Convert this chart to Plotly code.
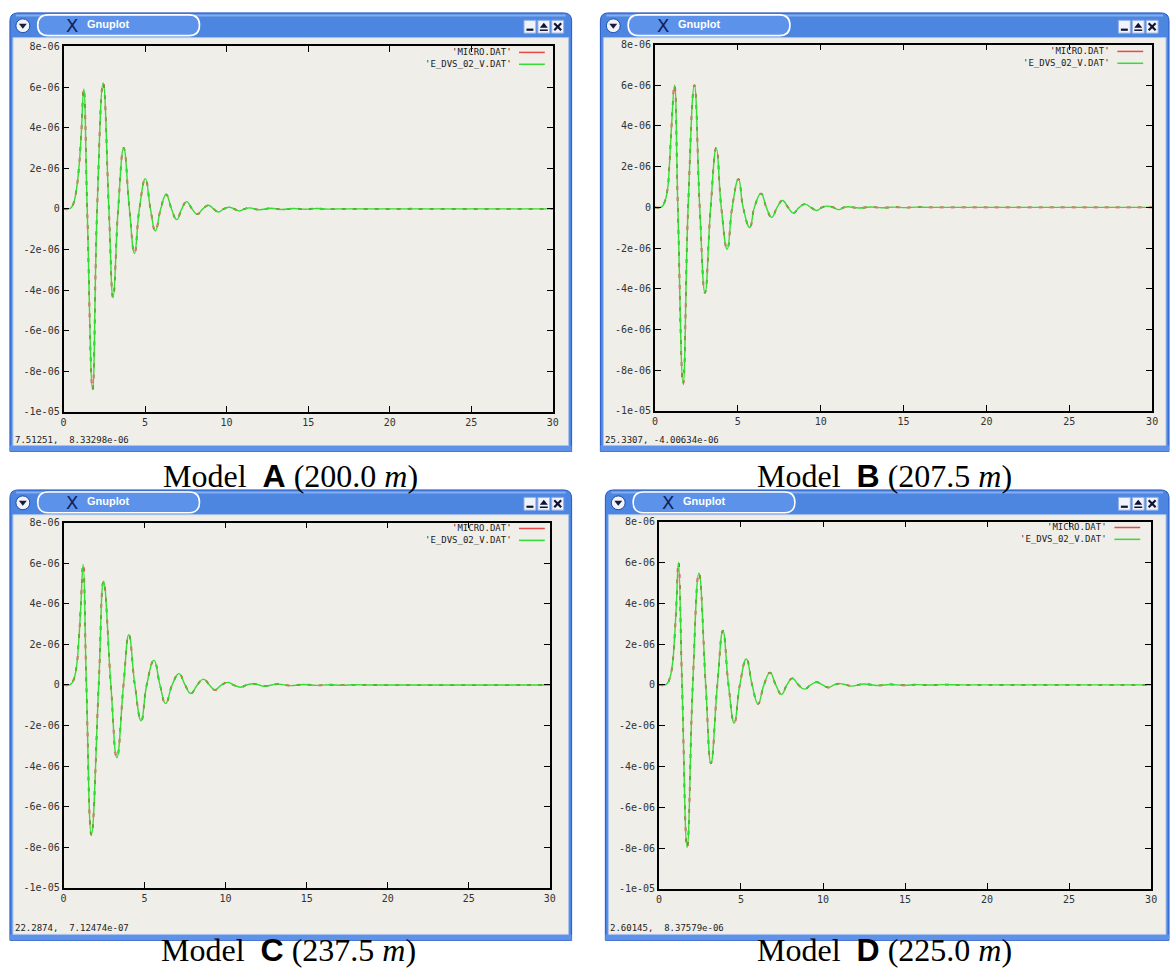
import plotly.graph_objects as go

W, H = 1175, 974

# ---------------- data (values in units of 1e-6) ----------------
UNIT = 1e-6

A_t = [0, 0.4, 0.6, 0.78, 0.94, 1.08, 1.24,
       1.45, 1.78, 2.06, 2.43, 2.78, 3.04, 3.35, 3.69, 4.04, 4.35, 4.65, 5.02, 5.33, 5.63, 5.96, 6.29,
       6.62, 6.94, 7.25, 7.55, 7.88, 8.2, 8.54, 8.88, 9.2, 9.5, 9.83, 10.16, 10.47, 10.78, 11.1, 11.4,
       12.0, 12.7, 13.4, 14.1, 14.8, 15.5, 16.2, 17.0, 30]
A_v = [0, 0.02, 0.25, 0.9, 2.0, 3.6, 5.9,
       0, -8.9, 0, 6.2, 0, -4.37, 0, 3.0, 0, -2.19, 0, 1.49, 0, -1.09, 0, 0.71,
       0, -0.53, 0, 0.36, 0, -0.26, 0, 0.18, 0, -0.15, 0, 0.08, 0, -0.1, 0, 0.05,
       -0.04, 0.03, -0.03, 0.02, -0.02, 0.02, -0.01, 0, 0]

B_t = [0, 0.4, 0.6, 0.76, 0.88, 1.0, 1.18,
       1.38, 1.70, 2.0, 2.38, 2.7, 3.02, 3.36, 3.70, 4.0, 4.36, 4.66, 5.04, 5.32, 5.72, 6.0, 6.4,
       6.72, 7.04, 7.37, 7.7, 8.03, 8.36, 8.7, 9.06, 9.4, 9.76, 10.08, 10.4, 10.75, 11.1, 11.4, 11.66,
       12.3, 13.0, 13.7, 14.4, 15.1, 15.8, 16.5, 17.2, 30]
B_v = [0, 0.02, 0.3, 0.9, 2.2, 4.0, 6.0,
       0, -8.67, 0, 6.0, 0, -4.2, 0, 2.92, 0, -2.06, 0, 1.39, 0, -0.99, 0, 0.68,
       0, -0.49, 0, 0.34, 0, -0.28, 0, 0.16, 0, -0.15, 0, 0.06, 0, -0.11, 0, 0.03,
       -0.03, 0.02, -0.02, 0.01, -0.01, 0.01, 0, 0, 0]

C_t = [0, 0.42, 0.62, 0.8, 0.94, 1.06, 1.21,
       1.41, 1.72, 2.17, 2.47, 2.92, 3.29, 3.70, 4.03, 4.40, 4.79, 5.13, 5.58, 5.95, 6.30, 6.7, 7.12,
       7.5, 7.85, 8.25, 8.63, 9.0, 9.33, 9.75, 10.14, 10.5, 10.9, 11.3, 11.68, 12.05, 12.4,
       13.2, 14.0, 14.8, 15.6, 16.4, 17.2, 18.0, 19.0, 30]
C_v = [0, 0.02, 0.25, 0.9, 2.2, 3.8, 5.94,
       0, -7.39, 0, 5.11, 0, -3.58, 0, 2.48, 0, -1.77, 0, 1.21, 0, -0.92, 0, 0.56,
       0, -0.42, 0, 0.29, 0, -0.24, 0, 0.13, 0, -0.11, 0, 0.06, 0, -0.06,
       0.04, -0.03, 0.02, -0.02, 0.01, -0.01, 0.01, 0, 0]

D_t = [0, 0.45, 0.65, 0.82, 0.95, 1.06, 1.19,
       1.41, 1.72, 2.06, 2.44, 2.85, 3.17, 3.56, 3.90, 4.24, 4.59, 4.93, 5.33, 5.68, 6.04, 6.4, 6.77,
       7.12, 7.47, 7.8, 8.14, 8.5, 8.87, 9.25, 9.62, 9.97, 10.32, 10.68, 11.03, 11.4, 11.74,
       12.5, 13.3, 14.1, 14.9, 15.7, 16.5, 17.3, 18.5, 30]
D_v = [0, 0.02, 0.3, 1.0, 2.3, 3.9, 6.0,
       0, -7.96, 0, 5.47, 0, -3.84, 0, 2.65, 0, -1.87, 0, 1.27, 0, -0.93, 0, 0.60,
       0, -0.47, 0, 0.32, 0, -0.21, 0, 0.13, 0, -0.13, 0, 0.06, 0, -0.06,
       0.04, -0.03, 0.02, -0.02, 0.01, -0.01, 0.01, 0, 0]

model_letters = ["A", "B", "C", "D"]
model_depths = ["200.0", "207.5", "237.5", "225.0"]
status_texts = ["7.51251,  8.33298e-06", "25.3307, -4.00634e-06",
                "22.2874,  7.12474e-07", "2.60145,  8.37579e-06"]
series_names = ["'MICRO.DAT'", "'E_DVS_02_V.DAT'"]

x_tick_vals = [0, 5, 10, 15, 20, 25, 30]
x_tick_text = ["0", "5", "10", "15", "20", "25", "30"]
y_tick_vals = [8e-6, 6e-6, 4e-6, 2e-6, 0, -2e-6, -4e-6, -6e-6, -8e-6, -1e-5]
y_tick_text = ["8e-06", "6e-06", "4e-06", "2e-06", "0", "-2e-06", "-4e-06", "-6e-06", "-8e-06", "-1e-05"]

series = [(A_t, A_v), (B_t, B_v), (C_t, C_v), (D_t, D_v)]
for t, v in series:
    assert len(t) == len(v)

# ---------------- layout geometry (pixels) ----------------
windows = [(7, 573, 7, 451), (602, 1175, 7, 451), (7, 573, 490, 946), (607, 1175, 490, 946)]
plots = [(61, 554, 41, 411), (657, 1158, 39, 410), (61, 551, 523, 893), (661, 1157, 522, 894)]
legend_pos = [(515, 47), (1118, 46), (515, 529), (1115, 528)]
captions_pos = [(290, 476), (888, 476), (288, 956), (888, 956)]

RED = "#E02525"
GREEN = "#33DD33"
CLIENT = "#EFEEE9"
TITLE = "#4D86E0"
MONO = "DejaVu Sans Mono"

def px(x):
    return x / W

def py(y):
    return 1 - y / H

def pt(x, y):
    return f"{px(x):.5f},{py(y):.5f}"

fig = go.Figure()
shapes = []
annotations = []
layout_axes = {}

for i, ((t, v), (L, R, T, B), (pl, pr, pt_, pb)) in enumerate(zip(series, windows, plots)):
    n = "" if i == 0 else str(i + 1)
    xa, ya = "x" + n, "y" + n
    vals = [val * UNIT for val in v]
    fig.add_trace(go.Scatter(x=t, y=vals, xaxis=xa, yaxis=ya, mode="lines", name=series_names[0],
                             line=dict(color=RED, width=1.8, dash="4px,7px", shape="spline", smoothing=1.3),
                             hoverinfo="skip"))
    fig.add_trace(go.Scatter(x=t, y=vals, xaxis=xa, yaxis=ya, mode="lines", name=series_names[1],
                             line=dict(color=GREEN, width=1.4, shape="spline", smoothing=1.3),
                             hoverinfo="skip"))
    common = dict(showline=True, linecolor="black", linewidth=1.7, mirror="ticks", ticks="inside",
                  ticklen=6, tickwidth=1.3, tickcolor="black", showgrid=False, zeroline=False,
                  tickfont=dict(family=MONO, size=10, color="#333333"), fixedrange=True)
    layout_axes["xaxis" + n] = dict(domain=[px(pl), px(pr)], range=[0, 30], anchor=ya,
                                    tickvals=x_tick_vals, ticktext=x_tick_text, **common)
    layout_axes["yaxis" + n] = dict(domain=[py(pb), py(pt_)], range=[-1e-5, 8e-6], anchor=xa,
                                    tickvals=y_tick_vals, ticktext=y_tick_text, **common)

    # ---- window frame ----
    r = 8
    path = (f"M{pt(L, B)} L{pt(L, T + r)} Q{pt(L, T)} {pt(L + r, T)} L{pt(R - r, T)} "
            f"Q{pt(R, T)} {pt(R, T + r)} L{pt(R, B)} Z")
    shapes.append(dict(type="path", path=path, xref="paper", yref="paper", fillcolor=TITLE,
                       line=dict(color="#2456C6", width=1), layer="below"))
    shapes.append(dict(type="line", xref="paper", yref="paper", x0=px(L + 6), x1=px(R - 6),
                       y0=py(T + 2.5), y1=py(T + 2.5), line=dict(color="#84AEF0", width=2), layer="below"))
    shapes.append(dict(type="rect", xref="paper", yref="paper", x0=px(L), x1=px(R),
                       y0=py(B), y1=py(B - 6), fillcolor="#5E92E8", line=dict(width=0), layer="below"))
    shapes.append(dict(type="rect", xref="paper", yref="paper", x0=px(L + 3), x1=px(R - 3),
                       y0=py(B - 6), y1=py(T + 25), fillcolor=CLIENT,
                       line=dict(color="#A9C2EE", width=1), layer="below"))
    # pill tab
    x0, x1, y0, y1 = L + 28, L + 191, T + 2, T + 23
    rr = (y1 - y0) / 2
    ym = (y0 + y1) / 2
    pill = (f"M{pt(x0 + rr, y0)} L{pt(x1 - rr, y0)} Q{pt(x1, y0)} {pt(x1, ym)} Q{pt(x1, y1)} {pt(x1 - rr, y1)} "
            f"L{pt(x0 + rr, y1)} Q{pt(x0, y1)} {pt(x0, ym)} Q{pt(x0, y0)} {pt(x0 + rr, y0)} Z")
    shapes.append(dict(type="path", path=pill, xref="paper", yref="paper", fillcolor="#5C92EA",
                       line=dict(color="white", width=1.6), layer="below"))
    annotations.append(dict(x=px(L + 63), y=py(T + 12.5), xref="paper", yref="paper", text="X",
                            showarrow=False, font=dict(family="DejaVu Sans", size=18, color="#0E2260"),
                            xanchor="center", yanchor="middle"))
    annotations.append(dict(x=px(L + 76), y=py(T + 11), xref="paper", yref="paper", text="<b>Gnuplot</b>",
                            showarrow=False, font=dict(family="Liberation Sans", size=11, color="white"),
                            xanchor="left", yanchor="middle"))
    # left round button
    cx, cy = L + 13, T + 13
    shapes.append(dict(type="circle", xref="paper", yref="paper", x0=px(cx - 7), x1=px(cx + 7),
                       y0=py(cy + 7), y1=py(cy - 7), fillcolor="#F1F4FB",
                       line=dict(color="#1F4BAA", width=1), layer="below"))
    shapes.append(dict(type="path", path=f"M{pt(cx - 4, cy - 2)} L{pt(cx + 4, cy - 2)} L{pt(cx, cy + 3)} Z",
                       xref="paper", yref="paper", fillcolor="#1B1B3A", line=dict(width=0), layer="below"))
    # right buttons
    RB = min(R, 1172)
    for k, off in enumerate([42, 28, 14]):
        bx, by = RB - off, T + 14
        shapes.append(dict(type="rect", xref="paper", yref="paper", x0=px(bx - 6), x1=px(bx + 6),
                           y0=py(by + 6.5), y1=py(by - 6.5), fillcolor="#F0F3FA",
                           line=dict(color="#8FAEE4", width=1), layer="below"))
        if k == 0:
            shapes.append(dict(type="line", xref="paper", yref="paper", x0=px(bx - 3.5), x1=px(bx + 3.5),
                               y0=py(by + 3), y1=py(by + 3), line=dict(color="#111133", width=2.2), layer="below"))
        elif k == 1:
            shapes.append(dict(type="path", path=f"M{pt(bx - 4, by + 1)} L{pt(bx + 4, by + 1)} L{pt(bx, by - 4)} Z",
                               xref="paper", yref="paper", fillcolor="#111133", line=dict(width=0), layer="below"))
            shapes.append(dict(type="line", xref="paper", yref="paper", x0=px(bx - 4), x1=px(bx + 4),
                               y0=py(by + 3.5), y1=py(by + 3.5), line=dict(color="#111133", width=1.5), layer="below"))
        else:
            for s in (1, -1):
                shapes.append(dict(type="line", xref="paper", yref="paper", x0=px(bx - 3.5), x1=px(bx + 3.5),
                                   y0=py(by - 3.5 * s), y1=py(by + 3.5 * s),
                                   line=dict(color="#111133", width=2.2), layer="below"))
    # status text
    annotations.append(dict(x=px(L + 3), y=py(B - 12), xref="paper", yref="paper", text=status_texts[i],
                            showarrow=False, font=dict(family=MONO, size=9, color="#222222"),
                            xanchor="left", yanchor="middle"))
    # legend
    lx, ly = legend_pos[i]
    for j, (name, col) in enumerate(zip(series_names, ["#E84848", GREEN])):
        yy = ly + 12 * j
        annotations.append(dict(x=px(lx), y=py(yy), xref="paper", yref="paper", text=name,
                                showarrow=False, font=dict(family=MONO, size=9, color="#222222"),
                                xanchor="right", yanchor="middle"))
        shapes.append(dict(type="line", xref="paper", yref="paper", x0=px(lx + 5), x1=px(lx + 31),
                           y0=py(yy), y1=py(yy), line=dict(color=col, width=1.5), layer="below"))
    # caption
    cxp, cyp = captions_pos[i]
    annotations.append(dict(x=px(cxp), y=py(cyp), xref="paper", yref="paper",
                            text=(f"Model&nbsp; <span style='font-family:Liberation Sans'><b>{model_letters[i]}</b></span>"
                                  f" ({model_depths[i]} <i>m</i>)"),
                            showarrow=False, font=dict(family="Liberation Serif", size=32, color="black"),
                            xanchor="center", yanchor="middle"))

fig.update_layout(width=W, height=H, margin=dict(l=0, r=0, t=0, b=0), paper_bgcolor="white",
                  plot_bgcolor=CLIENT, showlegend=False, shapes=shapes, annotations=annotations,
                  **layout_axes)

fig.write_html("out.html", config={"displayModeBar": False},
               post_script="document.body.style.margin='0';document.body.style.overflow='hidden';")
